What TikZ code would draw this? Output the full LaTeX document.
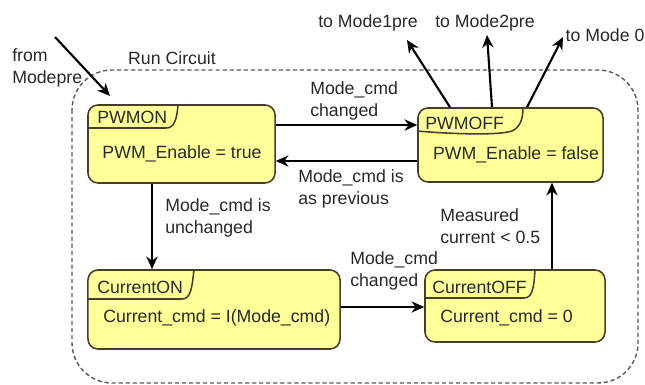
\documentclass[tikz,border=0pt]{standalone}
\usepackage{fontspec}
\setmainfont{Liberation Sans}
\usetikzlibrary{arrows.meta}

\definecolor{statefill}{RGB}{255,255,153}
\definecolor{stateline}{RGB}{70,62,40}
\definecolor{inktext}{RGB}{40,40,40}

\begin{document}
\begin{tikzpicture}[x=0.025cm,y=-0.025cm,
    every node/.style={font=\fontsize{12.6}{15.6}\selectfont, text=inktext},
    statebox/.style={draw=stateline, line width=1.1pt, fill=statefill, rounded corners=0.25cm, inner sep=0pt},
    tabline/.style={draw=stateline, line width=1.1pt},
    lbl/.style={anchor=west, align=left, inner sep=0pt},
    flow/.style={-{Stealth[length=9pt,width=8pt]}, line width=1.5pt, black}]
    \useasboundingbox (0,0) rectangle (645,385);

    % run circuit frame
    \draw[black!65, line width=1pt, dash pattern=on 3pt off 2pt, rounded corners=1cm] (72,70) rectangle (638,383);
    \node (runT) at (172,58) {Run Circuit};

    % states
    \node[statebox, minimum width=4.675cm, minimum height=1.95cm] (pwmon) at (181.5,144) {};
    \node[statebox, minimum width=4.625cm, minimum height=1.85cm] (pwmoff) at (510.5,145) {};
    \node[statebox, minimum width=6.3cm, minimum height=1.975cm] (curon) at (214,309.5) {};
    \node[statebox, minimum width=4.5cm, minimum height=1.8cm] (curoff) at (515,306) {};

    \draw[tabline] (pwmon.west |- 0,128) -- (166,128) .. controls (174,128) and (177,120) .. (pwmon.north -| 178,0);
    \draw[tabline] (pwmoff.west |- 0,131) .. controls (450,134) and (505,136) .. (514,130) .. controls (521,125) and (523,118) .. (pwmoff.north -| 523,0);
    \draw[tabline] (curon.west |- 0,299) -- (182,299) .. controls (190,299) and (192,290) .. (curon.north -| 194,0);
    \draw[tabline] (curoff.west |- 0,298) -- (524,298) .. controls (532,298) and (534,289) .. (curoff.north -| 535,0);

    \node[lbl] (pwmonT) at (97,117) {PWMON};
    \node (pwmonB) at (182,154) {PWM\_Enable = true};
    \node[lbl] (pwmoffT) at (425,123) {PWMOFF};
    \node (pwmoffB) at (516,155) {PWM\_Enable = false};
    \node[lbl] (curonT) at (97,287) {CurrentON};
    \node[lbl] (curonB) at (103,318) {Current\_cmd = I(Mode\_cmd)};
    \node[lbl] (curoffT) at (432,287) {CurrentOFF};
    \node[lbl] (curoffB) at (440,318) {Current\_cmd = 0};

    % entry and exits
    \node[lbl] (fromT) at (12,68) {from\\Modepre};
    \coordinate (fromA) at (55,37);
    \coordinate (fromB) at (110,96);
    \draw[flow] (fromA) -- (fromB);

    \node (to1T) at (368,23) {to Mode1pre};
    \node (to2T) at (485,23) {to Mode2pre};
    \node (to0T) at (605,35) {to Mode 0};
    \coordinate (to1) at (407,40);
    \coordinate (to2) at (487,35);
    \coordinate (to0) at (563,37);
    \draw[flow] (pwmoff.north -| 450,0) -- (to1);
    \draw[flow] (pwmoff.north -| 492,0) -- (to2);
    \draw[flow] (pwmoff.north -| 527,0) -- (to0);

    % transitions
    \draw[flow] (pwmon.east |- 0,125) -- (pwmoff.west |- 0,125);
    \node[lbl] (chg1T) at (310,101) {Mode\_cmd\\changed};
    \draw[flow] (pwmoff.west |- 0,161) -- (pwmon.east |- 0,161);
    \node[lbl] (prevT) at (298,189) {Mode\_cmd is\\as previous};
    \draw[flow] (pwmon.south -| 152,0) -- (curon.north -| 152,0);
    \node[lbl] (unchT) at (165,218) {Mode\_cmd is\\unchanged};
    \draw[flow] (curon.east |- 0,307) -- (curoff.west |- 0,307);
    \node[lbl] (chg2T) at (350,271) {Mode\_cmd\\changed};
    \draw[flow] (curoff.north -| 552,0) -- (pwmoff.south -| 552,0);
    \node[lbl] (measT) at (440,226) {Measured\\current < 0.5};
\end{tikzpicture}
\end{document}
